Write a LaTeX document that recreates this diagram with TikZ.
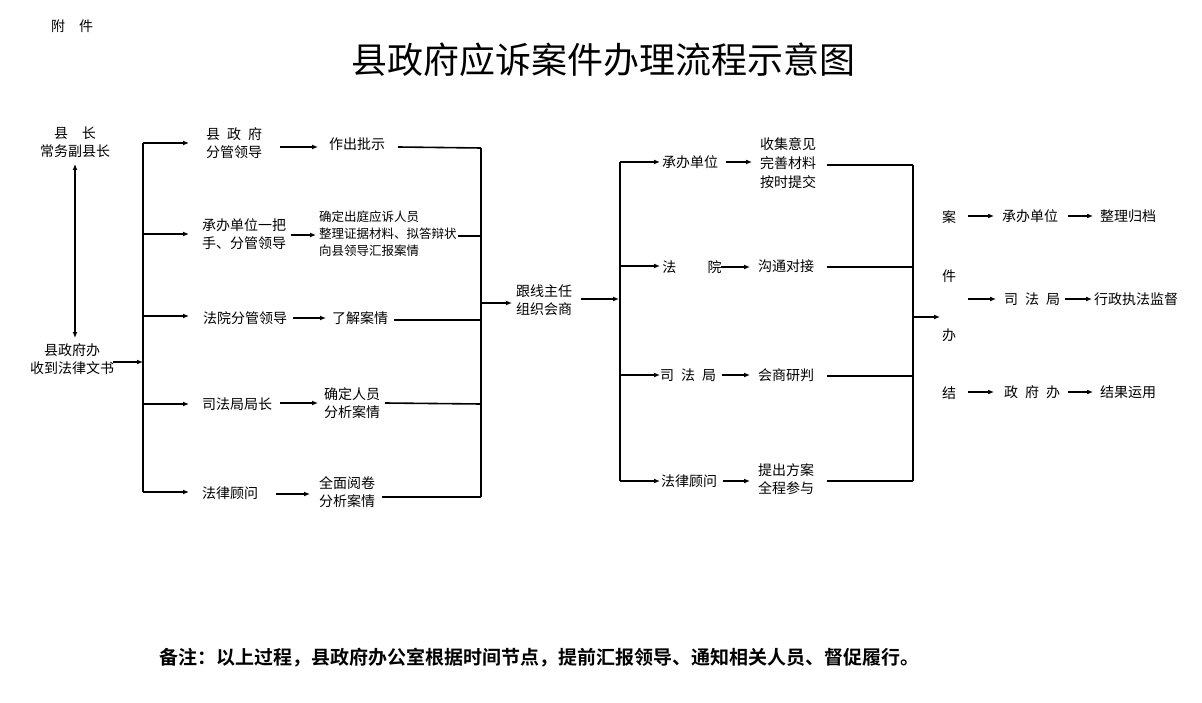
\documentclass[tikz,border=0pt]{standalone}
\usepackage{fontspec}
\setmainfont{Noto Sans CJK SC}
\newfontfamily\cjkbold[BoldFont={Noto Sans CJK SC Bold}]{Noto Sans CJK SC}
\usetikzlibrary{arrows.meta}
\begin{document}
\begin{tikzpicture}[x=1pt,y=-1pt,
  lbl/.style={inner sep=0pt,font=\fontsize{14}{18}\selectfont,align=center},
  small/.style={inner sep=0pt,font=\fontsize{12.5}{17}\selectfont,align=left},
  arr/.style={-{Latex[length=6pt,width=5pt]},line width=1.2pt},
  ln/.style={line width=1.6pt}]
\useasboundingbox (0,0) rectangle (1202,703);

% Title
\node[lbl] (att) at (72,26) {附\quad 件};
\node[inner sep=0pt,font=\fontsize{36}{40}\selectfont] (title) at (603,60) {县政府应诉案件办理流程示意图};

% Left part
\node[lbl] (leader) at (75,142) {县\quad 长\\常务副县长};
\node[lbl] (office) at (72,359) {县政府办\\收到法律文书};
\draw[{Latex[length=6pt,width=5pt]}-{Latex[length=6pt,width=5pt]},line width=1.2pt] (75,164) -- (75,338);
\coordinate (b1in) at (143,362);
\draw[arr] (113,362) -- (b1in);
\draw[ln] (143,143) -- (143,492);

%column 1
\node[lbl] (gov) at (234,143) {县\enspace 政\enspace 府\\分管领导};
\node[lbl] (unit) at (244,234) {承办单位一把\\手、分管领导};
\node[lbl] (court) at (245,318) {法院分管领导};
\node[lbl] (justice) at (237,404) {司法局局长};
\node[lbl] (lawyer) at (230,493) {法律顾问};
\foreach \n/\y in {gov/143,unit/234,court/316,justice/404,lawyer/492}
  \draw[arr] (143,\y) -- (189,\y);

%column 2
\node[lbl] (instr) at (357,144) {作出批示};
\node[small,anchor=west] (prep) at (319,234) {确定出庭应诉人员\\整理证据材料、拟答辩状\\向县领导汇报案情};
\node[lbl] (learn) at (360,318) {了解案情};
\node[lbl] (staff) at (352,403) {确定人员\\分析案情};
\node[lbl] (read) at (347,492) {全面阅卷\\分析案情};
\draw[arr] (280,147) -- (318,147);
\draw[arr] (291,235) -- (316,235);
\draw[arr] (293,318) -- (326,318);
\draw[arr] (280,403) -- (318,403);
\draw[arr] (276,494) -- (310,494);
\draw[ln] (398,147) -- (481,148);
\draw[ln] (458,236) -- (481,236);
\draw[ln] (394,320) -- (481,320);
\draw[ln] (385,403) -- (481,404);
\draw[ln] (382,497) -- (481,497);
\draw[ln] (481,148) -- (481,497);
\draw[arr] (481,303) -- (512,303);

%middle
\node[lbl] (meet) at (544,300) {跟线主任\\组织会商};
\draw[arr] (581,299) -- (619,299);
\draw[ln] (620,162) -- (620,481);

%column 3
\node[lbl] (unit2) at (690,162) {承办单位};
\node[lbl] (court2) at (692,267) {法\qquad\ 院};
\node[lbl] (justice2) at (688,375) {司\enspace 法\enspace 局};
\node[lbl] (lawyer2) at (689,481) {法律顾问};
\foreach \y in {162,266,375,481}
  \draw[arr] (620,\y) -- (660,\y);
\draw[arr] (726,162) -- (752,162);
\draw[arr] (721,267) -- (750,267);
\draw[arr] (722,375) -- (750,375);
\draw[arr] (723,481) -- (750,481);

%column 4
\node[lbl,font=\fontsize{14}{19}\selectfont] (collect) at (788,163) {收集意见\\完善材料\\按时提交};
\node[lbl] (talk) at (786,266) {沟通对接};
\node[lbl] (study) at (786,375) {会商研判};
\node[lbl] (plan) at (786,479) {提出方案\\全程参与};
\draw[ln] (827,165) -- (913,165);
\draw[ln] (827,267) -- (913,267);
\draw[ln] (827,376) -- (913,376);
\draw[ln] (827,481) -- (913,481);
\draw[ln] (913,165) -- (913,481);
\draw[arr] (913,317) -- (940,317);

%closing
\node[lbl] (c1) at (949,217) {案};
\node[lbl] (c2) at (949,276) {件};
\node[lbl] (c3) at (949,335) {办};
\node[lbl] (c4) at (949,393) {结};
\node[lbl] (unit3) at (1030,216) {承办单位};
\node[lbl] (file) at (1128,216) {整理归档};
\node[lbl] (justice3) at (1032,299) {司\enspace 法\enspace 局};
\node[lbl] (super) at (1136,299) {行政执法监督};
\node[lbl] (govoff) at (1032,392) {政\enspace 府\enspace 办};
\node[lbl] (use) at (1128,392) {结果运用};
\draw[arr] (968,216) -- (994,216);
\draw[arr] (1068,216) -- (1093,216);
\draw[arr] (968,299) -- (996,299);
\draw[arr] (1065,299) -- (1092,299);
\draw[arr] (968,392) -- (994,392);
\draw[arr] (1068,392) -- (1093,392);

% note
\node[inner sep=0pt,font=\cjkbold\bfseries\fontsize{19}{22}\selectfont] (note) at (539,658)
  {备注：以上过程，县政府办公室根据时间节点，提前汇报领导、通知相关人员、督促履行。};
\end{tikzpicture}
\end{document}
